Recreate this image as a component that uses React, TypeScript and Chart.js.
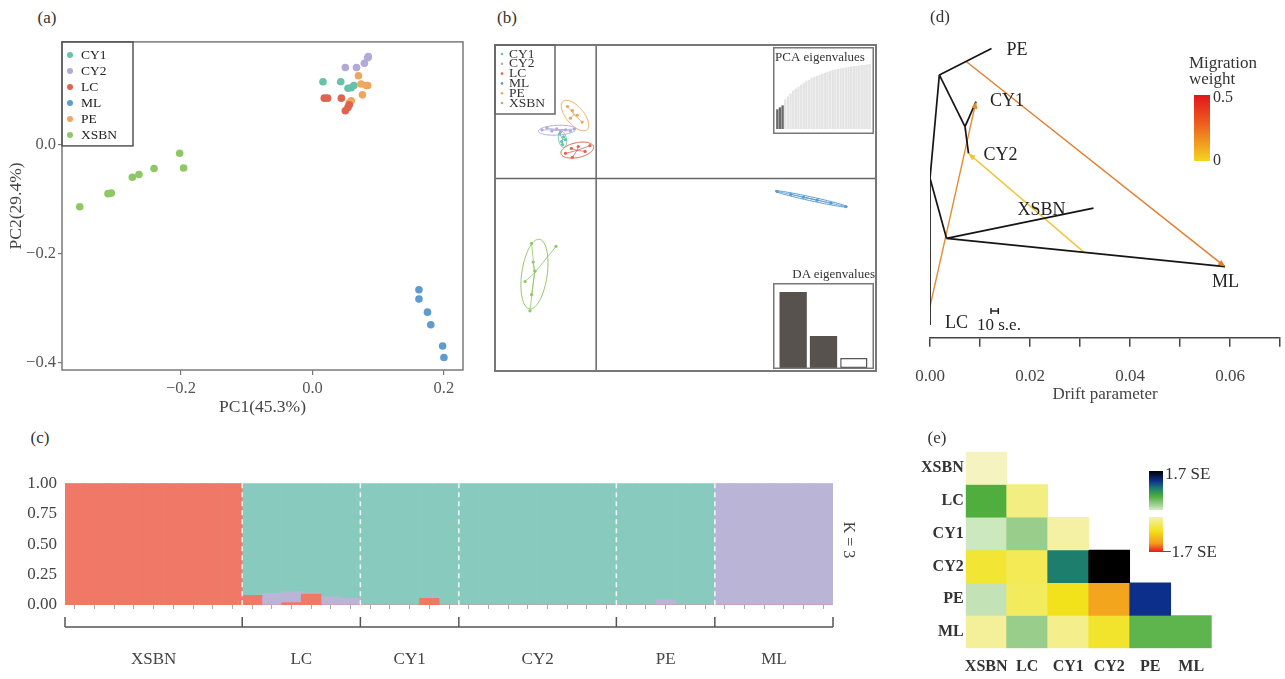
import React, { useEffect, useRef } from 'react';
import { Chart, registerables } from 'chart.js';
Chart.register(...registerables);

const SERIF = '"Liberation Serif", "Times New Roman", Times, serif';
Chart.defaults.font.family = SERIF;
Chart.defaults.color = '#444';

// ---------------- shared groups ----------------
const groupNames = ['CY1', 'CY2', 'LC', 'ML', 'PE', 'XSBN'];
const groupColors = ['#66c2a8', '#b2a9d9', '#dd6450', '#5d9bd0', '#eea75d', '#8ec865'];

// ---------------- (a) PCA ----------------
const pcaCY1 = [[0.016, 0.115], [0.043, 0.115], [0.054, 0.103], [0.059, 0.104], [0.063, 0.108]];
const pcaCY2 = [[0.05, 0.141], [0.067, 0.141], [0.079, 0.149], [0.084, 0.159], [0.085, 0.161]];
const pcaLC = [[0.018, 0.085], [0.023, 0.085], [0.044, 0.085], [0.05, 0.062], [0.054, 0.068], [0.056, 0.073]];
const pcaML = [[0.162, -0.266], [0.162, -0.283], [0.175, -0.307], [0.18, -0.33], [0.198, -0.369], [0.2, -0.39]];
const pcaPE = [[0.07, 0.126], [0.074, 0.111], [0.082, 0.108], [0.084, 0.108], [0.076, 0.091], [0.059, 0.08], [0.056, 0.076]];
const pcaXSBN = [[-0.354, -0.114], [-0.311, -0.09], [-0.306, -0.089], [-0.274, -0.06], [-0.264, -0.055], [-0.241, -0.044], [-0.202, -0.016], [-0.196, -0.043]];
const pcaXTicks = [-0.2, 0, 0.2];
const pcaYTicks = [0, -0.2, -0.4];

// ---------------- (b) DAPC ----------------
const dapcCY1 = [[-1.865, 2.285], [-1.665, 2.135], [-1.765, 1.885], [-1.565, 1.985], [-1.715, 1.735]];
const dapcCY2 = [[-2.765, 2.485], [-2.515, 2.585], [-2.265, 2.435], [-2.015, 2.535], [-1.815, 2.385], [-1.565, 2.485], [-1.315, 2.435], [-1.115, 2.535]];
const dapcLC = [[-1.565, 1.285], [-1.265, 1.535], [-0.915, 1.635], [-0.565, 1.385], [-0.315, 1.685], [-1.215, 1.085]];
const dapcML = [[9.235, -0.665], [9.935, -0.815], [10.585, -0.965], [11.285, -1.115], [11.985, -1.265], [12.735, -1.44]];
const dapcPE = [[-1.465, 3.685], [-1.215, 3.485], [-0.965, 3.235], [-0.715, 2.885], [-1.315, 3.085]];
const dapcXSBN = [[-3.3, -3.33], [-2.05, -3.48], [-3.215, -4.28], [-3.63, -5.28], [-3.13, -4.75], [-3.3, -5.95], [-3.38, -6.78]];
// ellipse: [cx, cy, semi-major, semi-minor, angle deg]
const dapcEllCY1 = [-1.715, 2.0, 0.42, 0.2, -80];
const dapcEllCY2 = [-2.0, 2.47, 0.95, 0.25, 3];
const dapcEllLC = [-0.965, 1.45, 0.85, 0.38, 12];
const dapcEllML = [10.98, -1.05, 1.9, 0.1, -12.4];
const dapcEllPE = [-1.08, 3.22, 0.95, 0.45, -50];
const dapcEllXSBN = [-3.15, -4.9, 1.8, 0.65, 82];
const pcaEigen = [20, 22, 24, 30, 33, 36, 39, 41, 43, 45, 47, 49, 50, 52, 53, 54, 55, 56, 57, 58, 59, 60, 60.5, 61, 61.5, 62, 62.5, 63, 63.5, 64, 64, 64.5, 65, 65, 65.5, 66];
const pcaEigenRetained = 3;
const daEigen = [76, 32, 10];

// ---------------- (c) STRUCTURE K=3 ----------------
const strucGroups = ['XSBN', 'LC', 'CY1', 'CY2', 'PE', 'ML'];
const strucCounts = [9, 6, 5, 8, 5, 6];
const strucRed = [1, 1, 1, 1, 1, 1, 1, 1, 1, 0.08, 0, 0.02, 0.09, 0, 0, 0, 0, 0, 0.055, 0, 0, 0, 0, 0, 0, 0, 0, 0, 0, 0, 0, 0, 0, 0, 0, 0, 0, 0, 0];
const strucPurple = [0, 0, 0, 0, 0, 0, 0, 0, 0, 0, 0.095, 0.09, 0.01, 0.065, 0.055, 0, 0, 0, 0, 0, 0, 0, 0, 0, 0, 0, 0, 0, 0, 0, 0.04, 0, 0, 1, 1, 1, 1, 1, 1];
const strucYTicks = [0, 0.25, 0.5, 0.75, 1];

// ---------------- (d) TreeMix ----------------
const treeNodeNames = ['root', 'LC', 'nA', 'PE', 'nCY', 'CY1', 'CY2', 'nB', 'XSBN', 'ML'];
const treeNodeDrift = [0, 0, 0.00187, 0.0123, 0.007, 0.0092, 0.0077, 0.0033, 0.0327, 0.059];
const treeNodeY = [0.518, 0.041, 0.854, 0.94, 0.686, 0.767, 0.599, 0.323, 0.421, 0.231];
const treeEdges = [['root', 'LC'], ['root', 'nA'], ['nA', 'PE'], ['nA', 'nCY'], ['nCY', 'CY1'], ['nCY', 'CY2'], ['root', 'nB'], ['nB', 'XSBN'], ['nB', 'ML']];
const treeLeaves = ['PE', 'CY1', 'CY2', 'XSBN', 'ML', 'LC'];
const migFromDrift = [0.0073, 0, 0.0307];
const migFromY = [0.897, 0.101, 0.279];
const migTo = ['ML', 'CY1', 'CY2'];
const migWeight = [0.24, 0.2, 0.02];
const driftTicks = [0, 0.01, 0.02, 0.03, 0.04, 0.05, 0.06, 0.07];
const seBarLength = 0.00146;

// ---------------- (e) residuals ----------------
const resRows = ['XSBN', 'LC', 'CY1', 'CY2', 'PE', 'ML'];
const resXSBN = [-0.1];
const resLC = [0.85, -0.35];
const resCY1 = [0.2, 0.5, -0.2];
const resCY2 = [-0.75, -0.55, 1.15, 1.7];
const resPE = [0.25, -0.5, -0.9, -1.25, 1.45];
const resML = [-0.25, 0.5, -0.3, -0.8, 0.78, 0.78];
const resStopVals = [-1.7, -1.3, -0.9, -0.5, -0.15, 0, 0.15, 0.5, 0.85, 1.15, 1.45, 1.7];
const resStopCols = ['#e31a1c', '#f39c1e', '#f2e21b', '#f3eb5e', '#f4f1b0', '#f7f7e0', '#d4ecc8', '#98cd8c', '#4fae3d', '#1e7e6e', '#0d2f8c', '#000000'];

// ---------------- helpers ----------------
const hexToRgb = (h: string) => [parseInt(h.slice(1, 3), 16), parseInt(h.slice(3, 5), 16), parseInt(h.slice(5, 7), 16)];
function resColor(v: number) {
  if (v <= resStopVals[0]) return resStopCols[0];
  for (let i = 1; i < resStopVals.length; i++) {
    if (v <= resStopVals[i]) {
      const t = (v - resStopVals[i - 1]) / (resStopVals[i] - resStopVals[i - 1]);
      const a = hexToRgb(resStopCols[i - 1]), b = hexToRgb(resStopCols[i]);
      const c = a.map((x, k) => Math.round(x + (b[k] - x) * t));
      return `rgb(${c[0]},${c[1]},${c[2]})`;
    }
  }
  return resStopCols[resStopCols.length - 1];
}
function migColor(w: number) {
  const a = [240, 205, 60], b = [210, 40, 30];
  const t = Math.min(1, w / 0.5);
  const c = a.map((x, k) => Math.round(x + (b[k] - x) * t));
  return `rgb(${c[0]},${c[1]},${c[2]})`;
}
const signed1 = (v: any) => (Number(v) < 0 ? '\u2212' : '') + Math.abs(Number(v)).toFixed(1);

const framePlugin = (color: string, width: number) => ({
  id: 'frame',
  afterDraw(chart: any) {
    const { ctx, chartArea: a } = chart;
    ctx.save();
    ctx.strokeStyle = color;
    ctx.lineWidth = width;
    ctx.strokeRect(a.left, a.top, a.right - a.left, a.bottom - a.top);
    ctx.restore();
  },
});
const canvasBoxPlugin = (title: string | null) => ({
  id: 'canvasBox',
  beforeDraw(chart: any) {
    const { ctx, width, height } = chart;
    ctx.save();
    ctx.fillStyle = '#fff';
    ctx.fillRect(0, 0, width, height);
    ctx.restore();
  },
  afterDraw(chart: any) {
    const { ctx, width, height } = chart;
    ctx.save();
    ctx.strokeStyle = '#777';
    ctx.lineWidth = 1.5;
    ctx.strokeRect(0.75, 0.75, width - 1.5, height - 1.5);
    if (title) {
      ctx.font = `13px ${SERIF}`;
      ctx.fillStyle = '#333';
      ctx.textBaseline = 'middle';
      ctx.fillText(title, 2, 11);
    }
    ctx.restore();
  },
});

const baseOpts = {
  animation: false,
  responsive: true,
  maintainAspectRatio: false,
  plugins: { legend: { display: false }, tooltip: { enabled: false } },
};

// ---------------- (a) config ----------------
const pcaLegendPlugin = {
  id: 'pcaLegend',
  afterDraw(chart: any) {
    const { ctx, chartArea: a } = chart;
    ctx.save();
    ctx.strokeStyle = '#555';
    ctx.lineWidth = 1.5;
    ctx.strokeRect(a.left, a.top, 71, 104);
    ctx.font = `13.5px ${SERIF}`;
    ctx.textBaseline = 'middle';
    groupNames.forEach((g, i) => {
      const y = a.top + 13 + i * 16;
      ctx.fillStyle = groupColors[i];
      ctx.beginPath();
      ctx.arc(a.left + 8, y, 3, 0, Math.PI * 2);
      ctx.fill();
      ctx.fillStyle = '#222';
      ctx.fillText(g, a.left + 19, y + 0.5);
    });
    ctx.restore();
  },
};
const makePCA = () => ({
  type: 'scatter',
  data: {
    datasets: [pcaCY1, pcaCY2, pcaLC, pcaML, pcaPE, pcaXSBN].map((pts, i) => ({
      label: groupNames[i],
      data: pts.map(([x, y]) => ({ x, y })),
      backgroundColor: groupColors[i],
      borderWidth: 0,
      pointRadius: 3.8,
    })),
  },
  options: {
    ...baseOpts,
    layout: { padding: { left: 0, top: 10, right: 7, bottom: 0 } },
    scales: {
      x: {
        type: 'linear', min: -0.381, max: 0.229,
        afterBuildTicks: (s: any) => { s.ticks = pcaXTicks.map((v) => ({ value: v })); },
        afterFit: (s: any) => { s.height = 52; },
        grid: { display: true, drawOnChartArea: false, tickLength: 5, color: '#777', lineWidth: 1.2 },
        border: { display: false },
        ticks: { font: { size: 16.5 }, color: '#555', padding: 4, callback: signed1 },
        title: { display: true, text: 'PC1(45.3%)', font: { size: 17.5 }, color: '#444', padding: { top: 0, bottom: 4 } },
      },
      y: {
        type: 'linear', min: -0.413, max: 0.188,
        afterBuildTicks: (s: any) => { s.ticks = pcaYTicks.map((v) => ({ value: v })); },
        afterFit: (s: any) => { s.width = 62; },
        grid: { display: true, drawOnChartArea: false, tickLength: 4, color: '#777', lineWidth: 1.2 },
        border: { display: false },
        ticks: { font: { size: 16.5 }, color: '#555', padding: 2, callback: signed1 },
        title: { display: true, text: 'PC2(29.4%)', font: { size: 17.5 }, color: '#444', padding: { top: 6, bottom: 0 } },
      },
    },
  },
  plugins: [framePlugin('#7a7a7a', 1.5), pcaLegendPlugin],
});

// ---------------- (b) config ----------------
const dapcPoints = [dapcCY1, dapcCY2, dapcLC, dapcML, dapcPE, dapcXSBN];
const dapcEllipses = [dapcEllCY1, dapcEllCY2, dapcEllLC, dapcEllML, dapcEllPE, dapcEllXSBN];
const dapcPlugin = {
  id: 'dapc',
  beforeDatasetsDraw(chart: any) {
    const { ctx, chartArea: a, scales } = chart;
    const x0 = scales.x.getPixelForValue(0), y0 = scales.y.getPixelForValue(0);
    ctx.save();
    ctx.strokeStyle = '#666';
    ctx.lineWidth = 1.5;
    ctx.beginPath();
    ctx.moveTo(x0, a.top); ctx.lineTo(x0, a.bottom);
    ctx.moveTo(a.left, y0); ctx.lineTo(a.right, y0);
    ctx.stroke();
    ctx.restore();
  },
  afterDatasetsDraw(chart: any) {
    const { ctx, scales } = chart;
    const xs = scales.x, ys = scales.y;
    ctx.save();
    dapcPoints.forEach((pts, i) => {
      const col = groupColors[i];
      const cx = pts.reduce((s, p) => s + p[0], 0) / pts.length;
      const cy = pts.reduce((s, p) => s + p[1], 0) / pts.length;
      ctx.strokeStyle = col;
      ctx.lineWidth = 0.8;
      pts.forEach((p) => {
        ctx.beginPath();
        ctx.moveTo(xs.getPixelForValue(cx), ys.getPixelForValue(cy));
        ctx.lineTo(xs.getPixelForValue(p[0]), ys.getPixelForValue(p[1]));
        ctx.stroke();
      });
      const [ex, ey, ea, eb, deg] = dapcEllipses[i];
      const t = (deg * Math.PI) / 180;
      ctx.lineWidth = 1;
      ctx.beginPath();
      for (let k = 0; k <= 90; k++) {
        const u = (k / 90) * Math.PI * 2;
        const px = ex + ea * Math.cos(u) * Math.cos(t) - eb * Math.sin(u) * Math.sin(t);
        const py = ey + ea * Math.cos(u) * Math.sin(t) + eb * Math.sin(u) * Math.cos(t);
        const X = xs.getPixelForValue(px), Y = ys.getPixelForValue(py);
        if (k === 0) ctx.moveTo(X, Y); else ctx.lineTo(X, Y);
      }
      ctx.stroke();
    });
    ctx.restore();
  },
  afterDraw(chart: any) {
    const { ctx, chartArea: a } = chart;
    ctx.save();
    ctx.strokeStyle = '#777';
    ctx.lineWidth = 2;
    ctx.strokeRect(a.left + 1, a.top + 1, a.right - a.left - 2, a.bottom - a.top - 2);
    ctx.lineWidth = 1.5;
    ctx.strokeStyle = '#666';
    ctx.strokeRect(a.left + 1, a.top + 1, 60, 69);
    ctx.font = `13.5px ${SERIF}`;
    ctx.textBaseline = 'middle';
    groupNames.forEach((g, i) => {
      const y = a.top + 10 + i * 9.8;
      ctx.fillStyle = groupColors[i];
      ctx.beginPath();
      ctx.arc(a.left + 8, y, 1.3, 0, Math.PI * 2);
      ctx.fill();
      ctx.fillStyle = '#333';
      ctx.fillText(g, a.left + 15, y);
    });
    ctx.restore();
  },
};
const makeDAPC = () => ({
  type: 'scatter',
  data: {
    datasets: dapcPoints.map((pts, i) => ({
      label: groupNames[i],
      data: pts.map(([x, y]) => ({ x, y })),
      backgroundColor: groupColors[i],
      borderWidth: 0,
      pointRadius: 1.6,
    })),
  },
  options: {
    ...baseOpts,
    layout: { padding: 0 },
    scales: {
      x: { type: 'linear', min: -5.215, max: 14.335, display: false },
      y: { type: 'linear', min: -9.915, max: 6.885, display: false },
    },
  },
  plugins: [dapcPlugin],
});
const makePCAEigen = () => ({
  type: 'bar',
  data: {
    labels: pcaEigen.map((_, i) => String(i + 1)),
    datasets: [{
      data: pcaEigen,
      backgroundColor: pcaEigen.map((_, i) => (i < pcaEigenRetained ? '#6a6a6a' : '#e4e4e4')),
      borderWidth: 0,
      barPercentage: 0.9,
      categoryPercentage: 1,
    }],
  },
  options: {
    ...baseOpts,
    layout: { padding: { left: 3, right: 3, top: 17, bottom: 5 } },
    scales: { x: { display: false }, y: { display: false, min: 0, max: 66 } },
  },
  plugins: [canvasBoxPlugin('PCA eigenvalues')],
});
const makeDAEigen = () => ({
  type: 'bar',
  data: {
    labels: daEigen.map((_, i) => String(i + 1)),
    datasets: [{
      data: daEigen,
      backgroundColor: ['#57524d', '#57524d', '#ffffff'],
      borderColor: '#555',
      borderWidth: [0, 0, 1.5],
      borderSkipped: false,
      barPercentage: 0.9,
      categoryPercentage: 1,
    }],
  },
  options: {
    ...baseOpts,
    layout: { padding: { left: 5, right: 5, top: 7, bottom: 1 } },
    scales: { x: { display: false }, y: { display: false, min: 0, max: 78 } },
  },
  plugins: [canvasBoxPlugin(null)],
});

// ---------------- (c) config ----------------
const strucLabels: string[] = [];
strucGroups.forEach((g, gi) => { for (let k = 0; k < strucCounts[gi]; k++) strucLabels.push(g + (k + 1)); });
const strucTeal = strucRed.map((r, i) => 1 - r - strucPurple[i]);
const strucBounds = strucCounts.reduce((acc: number[], c) => { acc.push(acc[acc.length - 1] + c); return acc; }, [0]);
const strucPlugin = {
  id: 'struc',
  afterDatasetsDraw(chart: any) {
    const { ctx, chartArea: a, scales } = chart;
    ctx.save();
    ctx.strokeStyle = 'rgba(255,255,255,0.9)';
    ctx.lineWidth = 1.5;
    ctx.setLineDash([5, 4]);
    strucBounds.slice(1, -1).forEach((b) => {
      const x = scales.x.getPixelForValue(b - 0.5);
      ctx.beginPath(); ctx.moveTo(x, a.top); ctx.lineTo(x, a.bottom); ctx.stroke();
    });
    ctx.restore();
  },
  afterDraw(chart: any) {
    const { ctx, scales } = chart;
    const xs = scales.x;
    const lineY = 162;
    ctx.save();
    ctx.strokeStyle = '#555';
    ctx.lineWidth = 1.5;
    const x0 = xs.getPixelForValue(-0.5), x1 = xs.getPixelForValue(strucLabels.length - 0.5);
    ctx.beginPath(); ctx.moveTo(x0, lineY); ctx.lineTo(x1, lineY); ctx.stroke();
    strucBounds.forEach((b) => {
      const x = xs.getPixelForValue(b - 0.5);
      ctx.beginPath(); ctx.moveTo(x, lineY); ctx.lineTo(x, lineY - 10); ctx.stroke();
    });
    ctx.font = `17px ${SERIF}`;
    ctx.fillStyle = '#444';
    ctx.textAlign = 'center';
    ctx.textBaseline = 'middle';
    strucGroups.forEach((g, i) => {
      const xm = (xs.getPixelForValue(strucBounds[i] - 0.5) + xs.getPixelForValue(strucBounds[i + 1] - 0.5)) / 2;
      ctx.fillText(g, xm, 195);
    });
    ctx.translate(848, 75);
    ctx.rotate(Math.PI / 2);
    ctx.font = `16px ${SERIF}`;
    ctx.fillText('K = 3', 0, 0);
    ctx.restore();
  },
};
const makeStructure = () => ({
  type: 'bar',
  data: {
    labels: strucLabels,
    datasets: [
      { label: 'K1', data: strucRed, backgroundColor: '#ef7866' },
      { label: 'K3', data: strucPurple, backgroundColor: '#bab4d7' },
      { label: 'K2', data: strucTeal, backgroundColor: '#88cbbe' },
    ].map((d) => ({ ...d, borderWidth: 0, barPercentage: 1, categoryPercentage: 1 })),
  },
  options: {
    ...baseOpts,
    layout: { padding: { left: 0, top: 14, right: 37, bottom: 0 } },
    scales: {
      x: {
        type: 'category', stacked: true, offset: true,
        grid: { display: true, drawOnChartArea: false, offset: false, tickLength: 4, color: '#aaa' },
        border: { display: false },
        ticks: { display: false, autoSkip: false },
        afterFit: (s: any) => { s.height = 74; },
      },
      y: {
        type: 'linear', stacked: true, min: 0, max: 1,
        afterBuildTicks: (s: any) => { s.ticks = strucYTicks.map((v) => ({ value: v })); },
        afterFit: (s: any) => { s.width = 65; },
        grid: { display: false, drawTicks: false },
        border: { display: false },
        ticks: { font: { size: 17 }, color: '#444', padding: 8, callback: (v: any) => Number(v).toFixed(2) },
      },
    },
  },
  plugins: [strucPlugin],
});

// ---------------- (d) config ----------------
const nodeIdx = (n: string) => treeNodeNames.indexOf(n);
const nodePt = (n: string) => ({ x: treeNodeDrift[nodeIdx(n)], y: treeNodeY[nodeIdx(n)] });
const leafLabelOffsets: Record<string, number[]> = {
  PE: [15, 2], CY1: [14, 0], CY2: [15, 2], XSBN: [-76, 2], ML: [-13, 16], LC: [15, -2],
};
const treePlugin = {
  id: 'tree',
  afterDatasetsDraw(chart: any) {
    const { ctx, scales, chartArea: a } = chart;
    const xs = scales.x, ys = scales.y;
    ctx.save();
    migTo.forEach((to, i) => {
      const p = nodePt(to);
      const X1 = xs.getPixelForValue(p.x), Y1 = ys.getPixelForValue(p.y);
      const X0 = xs.getPixelForValue(migFromDrift[i]), Y0 = ys.getPixelForValue(migFromY[i]);
      const ang = Math.atan2(Y1 - Y0, X1 - X0);
      ctx.fillStyle = migColor(migWeight[i]);
      ctx.beginPath();
      ctx.moveTo(X1, Y1);
      ctx.lineTo(X1 - 7 * Math.cos(ang) + 3 * Math.sin(ang), Y1 - 7 * Math.sin(ang) - 3 * Math.cos(ang));
      ctx.lineTo(X1 - 7 * Math.cos(ang) - 3 * Math.sin(ang), Y1 - 7 * Math.sin(ang) + 3 * Math.cos(ang));
      ctx.closePath();
      ctx.fill();
    });
    ctx.font = `18px ${SERIF}`;
    ctx.fillStyle = '#222';
    ctx.textBaseline = 'middle';
    treeLeaves.forEach((l) => {
      const p = nodePt(l);
      const o = leafLabelOffsets[l];
      ctx.fillText(l, xs.getPixelForValue(p.x) + o[0], ys.getPixelForValue(p.y) + o[1]);
    });
    // 10 s.e. scale bar
    const sx0 = xs.getPixelForValue(0.0122), sx1 = xs.getPixelForValue(0.0122 + seBarLength);
    const sy = ys.getPixelForValue(0.087);
    ctx.strokeStyle = '#222';
    ctx.lineWidth = 1.5;
    ctx.beginPath();
    ctx.moveTo(sx0, sy); ctx.lineTo(sx1, sy);
    ctx.moveTo(sx0, sy - 3); ctx.lineTo(sx0, sy + 3);
    ctx.moveTo(sx1, sy - 3); ctx.lineTo(sx1, sy + 3);
    ctx.stroke();
    ctx.font = `17px ${SERIF}`;
    ctx.fillText('10 s.e.', sx0 - 14, sy + 15);
    // drift tick labels
    ctx.fillStyle = '#444';
    ctx.textAlign = 'center';
    driftTicks.forEach((v, i) => {
      if (i % 2 === 0) ctx.fillText(v.toFixed(2), xs.getPixelForValue(v), a.bottom + 39);
    });
    ctx.restore();
  },
};
const makeTree = () => ({
  type: 'scatter',
  data: {
    datasets: [
      ...treeEdges.map(([a, b]) => ({
        data: [nodePt(a), nodePt(b)],
        showLine: true, borderColor: '#151515', borderWidth: 1.7, pointRadius: 0,
      })),
      ...migTo.map((to, i) => ({
        data: [{ x: migFromDrift[i], y: migFromY[i] }, nodePt(to)],
        showLine: true, borderColor: migColor(migWeight[i]), borderWidth: 1.4, pointRadius: 0,
      })),
    ],
  },
  options: {
    ...baseOpts,
    layout: { padding: { left: 30, right: 5, top: 10, bottom: 0 } },
    scales: {
      x: {
        type: 'linear', min: 0, max: 0.07,
        afterBuildTicks: (s: any) => { s.ticks = driftTicks.map((v) => ({ value: v })); },
        afterFit: (s: any) => { s.height = 72.3; s.paddingLeft = 0; s.paddingRight = 0; },
        grid: { display: true, drawOnChartArea: false, tickLength: 9, color: '#444', lineWidth: 1.5 },
        border: { display: true, color: '#444', width: 1.5 },
        ticks: { display: false },
        title: { display: true, text: 'Drift parameter', font: { size: 17 }, color: '#444', padding: { top: 0, bottom: 5 } },
      },
      y: { type: 'linear', min: 0, max: 1, display: false },
    },
  },
  plugins: [treePlugin],
});

// ---------------- (e) config ----------------
const resValues = [resXSBN, resLC, resCY1, resCY2, resPE, resML];
const makeResid = () => ({
  type: 'bar',
  data: {
    labels: resRows,
    datasets: resValues.map((vals, r) => ({
      label: resRows[r],
      data: resRows.map((_, c) => (c <= r ? [r - 0.5, r + 0.5] : null)),
      backgroundColor: resRows.map((_, c) => (c <= r ? resColor(vals[c]) : 'rgba(0,0,0,0)')),
      borderWidth: 0,
      grouped: false,
      barPercentage: 1,
      categoryPercentage: 1,
    })),
  },
  options: {
    ...baseOpts,
    layout: { padding: { left: 0, top: 11.7, right: 73.3, bottom: 0 } },
    scales: {
      x: {
        type: 'category',
        grid: { display: false, drawTicks: false }, border: { display: false },
        ticks: { font: { size: 16, weight: 'bold' }, color: '#333', padding: 9, maxRotation: 0, minRotation: 0, autoSkip: false },
        afterFit: (s: any) => { s.height = 30.7; s.paddingLeft = 0; s.paddingRight = 0; },
      },
      y: {
        type: 'linear', min: -0.5, max: 5.5, reverse: true,
        afterBuildTicks: (s: any) => { s.ticks = resRows.map((_, i) => ({ value: i })); },
        afterFit: (s: any) => { s.width = 65.7; },
        grid: { display: false, drawTicks: false }, border: { display: false },
        ticks: { font: { size: 16, weight: 'bold' }, color: '#333', padding: 2, callback: (v: any) => resRows[Math.round(Number(v))] },
      },
    },
  },
});

// ---------------- components ----------------
function ChartBox({ left, top, width, height, make }: any) {
  const ref = useRef<HTMLCanvasElement>(null);
  useEffect(() => {
    const chart = new Chart(ref.current as HTMLCanvasElement, make());
    return () => chart.destroy();
  }, []);
  return (
    <div style={{ position: 'absolute', left, top, width, height }}>
      <canvas ref={ref} />
    </div>
  );
}
function Txt({ x, y, children, size = 17, align = 'left', weight = 'normal', color = '#333' }: any) {
  const tx = align === 'left' ? '0' : align === 'center' ? '-50%' : '-100%';
  return (
    <div style={{ position: 'absolute', left: x, top: y, transform: `translate(${tx},-50%)`, fontSize: size, fontWeight: weight, color, whiteSpace: 'nowrap', lineHeight: 1, fontFamily: SERIF }}>
      {children}
    </div>
  );
}

export default function App() {
  return (
    <div style={{ position: 'absolute', left: 0, top: 0, width: 1285, height: 679, background: '#fff', overflow: 'hidden', fontFamily: SERIF }}>
      <ChartBox left={0} top={30} width={470} height={392} make={makePCA} />
      <ChartBox left={490} top={40} width={391} height={336} make={makeDAPC} />
      <ChartBox left={773} top={47} width={101} height={87} make={makePCAEigen} />
      <ChartBox left={773} top={283} width={101} height={86} make={makeDAEigen} />
      <ChartBox left={900} top={20} width={385} height={390} make={makeTree} />
      <ChartBox left={0} top={465} width={870} height={214} make={makeStructure} />
      <ChartBox left={900} top={440} width={385} height={239} make={makeResid} />

      <Txt x={47} y={17} align="center">(a)</Txt>
      <Txt x={507} y={17} align="center">(b)</Txt>
      <Txt x={940} y={16} align="center">(d)</Txt>
      <Txt x={40} y={437} align="center">(c)</Txt>
      <Txt x={937} y={437} align="center">(e)</Txt>

      <Txt x={875} y={273} size={13} align="right">DA eigenvalues</Txt>

      <Txt x={1189} y={62} size={17}>Migration</Txt>
      <Txt x={1189} y={78} size={17}>weight</Txt>
      <div style={{ position: 'absolute', left: 1194, top: 95, width: 16, height: 66, background: 'linear-gradient(to bottom, #e3151c 0%, #ee6a1f 50%, #f5d420 100%)' }} />
      <Txt x={1213} y={97} size={16}>0.5</Txt>
      <Txt x={1213} y={160} size={16}>0</Txt>

      <div style={{ position: 'absolute', left: 1149, top: 471, width: 14, height: 39, background: 'linear-gradient(to bottom, #000000 0%, #0d2f8c 25%, #1e7e6e 45%, #4fae3d 65%, #98cd8c 85%, #d4ecc8 100%)' }} />
      <div style={{ position: 'absolute', left: 1149, top: 517, width: 14, height: 35, background: 'linear-gradient(to bottom, #f4f1b0 0%, #f2e21b 40%, #f39c1e 75%, #e31a1c 100%)' }} />
      <Txt x={1165} y={473} size={17}>1.7 SE</Txt>
      <Txt x={1162} y={551} size={17}>{'\u22121.7 SE'}</Txt>
    </div>
  );
}
